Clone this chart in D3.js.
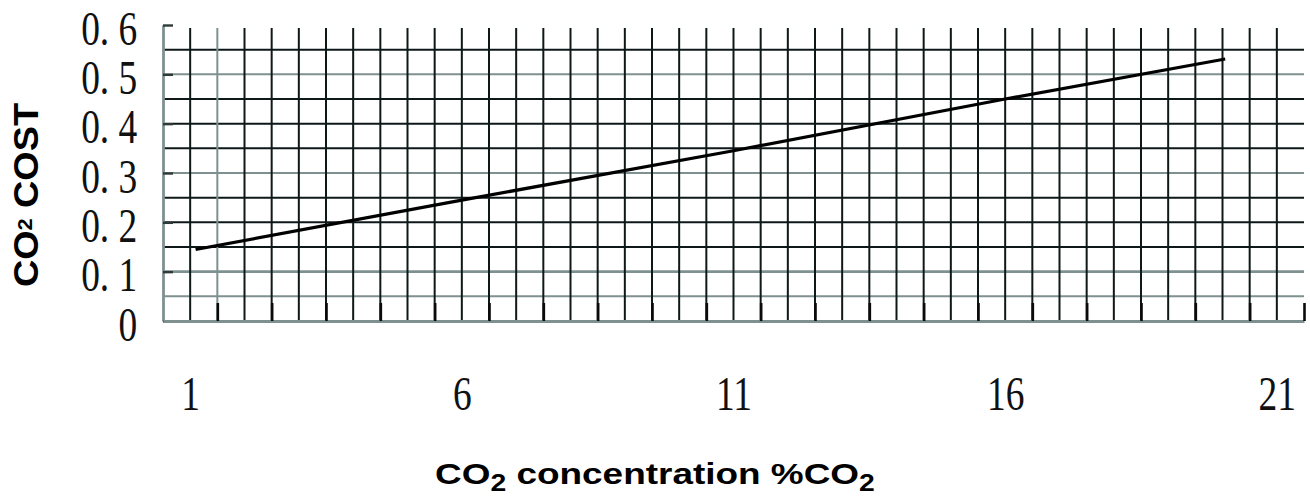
<!DOCTYPE html>
<html>
<head>
<meta charset="utf-8">
<script src="https://cdn.jsdelivr.net/npm/d3@7"></script>
<style>
  body { margin: 0; background: #fff; }
  svg { display: block; }
</style>
</head>
<body>
<div id="chart"></div>
<script>
// values
var xTicks = [1, 6, 11, 16, 21];
var yTicks = [0, 0.1, 0.2, 0.3, 0.4, 0.5, 0.6];
var costX = [1.1, 6, 11, 16, 20.05];
var costY = [0.145, 0.245, 0.345, 0.45, 0.531];

var W = 1310, H = 500;
var svg = d3.select("#chart").append("svg")
    .attr("width", W)
    .attr("height", H);

var x = d3.scaleLinear().domain([0.5, 21.5]).range([163, 1304]);
var y = d3.scaleLinear().domain([0, 0.6]).range([321, 25]);

var dark = "#0f1818", grey = "#7f9090";
var serif = "'Liberation Serif', 'Times New Roman', serif";
var sans = "'Liberation Sans', Arial, sans-serif";

// grid - every half unit across, every 0.05 up
var hGrid = d3.range(0.05, 0.551, 0.05);
var vGrid = d3.range(1, 21.01, 0.5);
var lightH = [0.05, 0.1, 0.3, 0.5];

svg.append("g").selectAll("line").data(hGrid).enter().append("line")
    .attr("x1", x(0.5)).attr("x2", x(21.5))
    .attr("y1", function(d){ return y(d); })
    .attr("y2", function(d){ return y(d); })
    .attr("stroke", function(d){
      return lightH.some(function(v){ return Math.abs(v - d) < 1e-6; }) ? grey : dark;
    })
    .attr("stroke-width", function(d){ return Math.abs(d - 0.1) < 1e-6 ? 2.8 : 2; });

svg.append("g").selectAll("line").data(vGrid).enter().append("line")
    .attr("x1", function(d){ return x(d); })
    .attr("x2", function(d){ return x(d); })
    .attr("y1", y(0.594)).attr("y2", y(0))
    .attr("stroke", function(d){ return d === 1.5 ? grey : dark; })
    .attr("stroke-width", 2);

// left axis, ticks pointing in
var yAxis = d3.axisLeft(y).tickValues(yTicks)
    .tickSizeInner(-10).tickSizeOuter(0).tickPadding(33)
    .tickFormat(function(d){ return d === 0 ? "0" : d3.format(".1f")(d).replace(".", ". "); });

var gy = svg.append("g").attr("transform", "translate(" + x(0.5) + ",0)").call(yAxis);
gy.select(".domain").attr("stroke", grey).attr("stroke-width", 2.8);
gy.selectAll(".tick line").attr("stroke", "#2e3a3a").attr("stroke-width", 2.4);
gy.selectAll(".tick text")
    .attr("font-family", serif).attr("font-size", 48).attr("fill", "#111")
    .attr("dy", "0.4em")
    .attr("transform", "scale(0.78,1)");

// bottom axis: short inner ticks at the half units
var xMinor = d3.axisBottom(x).tickValues(d3.range(1.5, 21.51, 1))
    .tickSizeInner(-18).tickSizeOuter(0).tickFormat("");
var gxm = svg.append("g").attr("transform", "translate(0," + y(0) + ")").call(xMinor);
gxm.select(".domain").attr("stroke", grey).attr("stroke-width", 2.8);
gxm.selectAll(".tick line").attr("stroke", "#0a0a0a").attr("stroke-width", 2.6);

// bottom labels
var xAxis = d3.axisBottom(x).tickValues(xTicks).tickSize(0).tickPadding(55);
var gx = svg.append("g").attr("transform", "translate(0," + y(0) + ")").call(xAxis);
gx.select(".domain").remove();
gx.selectAll(".tick text")
    .attr("font-family", serif).attr("font-size", 48).attr("fill", "#111")
    .attr("dy", "0.71em")
    .attr("transform", "scale(0.78,1)");

// the cost line
var pts = costX.map(function(d, i){ return [d, costY[i]]; });
var line = d3.line()
    .x(function(d){ return x(d[0]); })
    .y(function(d){ return y(d[1]); });

svg.append("path")
    .attr("d", line(pts))
    .attr("fill", "none")
    .attr("stroke", "#000")
    .attr("stroke-width", 3.2);

// axis titles
var xt = svg.append("text")
    .attr("font-family", sans).attr("font-weight", "bold")
    .attr("font-size", 30).attr("fill", "#000");
xt.append("tspan").text("CO");
xt.append("tspan").text("2").attr("font-size", 23).attr("dy", 7);
xt.append("tspan").text(" concentration %CO").attr("dy", -7);
xt.append("tspan").text("2").attr("font-size", 23).attr("dy", 7);
var xw = xt.node().getBBox().width;
var xs = 440 / xw;
xt.attr("transform", "translate(435,484) scale(" + xs + ",1)");

var yt = svg.append("text")
    .attr("font-family", sans).attr("font-weight", "bold")
    .attr("font-size", 35).attr("fill", "#000");
yt.append("tspan").text("CO");
yt.append("tspan").text("2").attr("font-size", 20).attr("dy", -6);
yt.append("tspan").text(" COST").attr("dy", 6);
var yw = yt.node().getBBox().width;
var ys = 184 / yw;
yt.attr("transform", "translate(38,287) rotate(-90) scale(" + ys + ",1)");
</script>
</body>
</html>
